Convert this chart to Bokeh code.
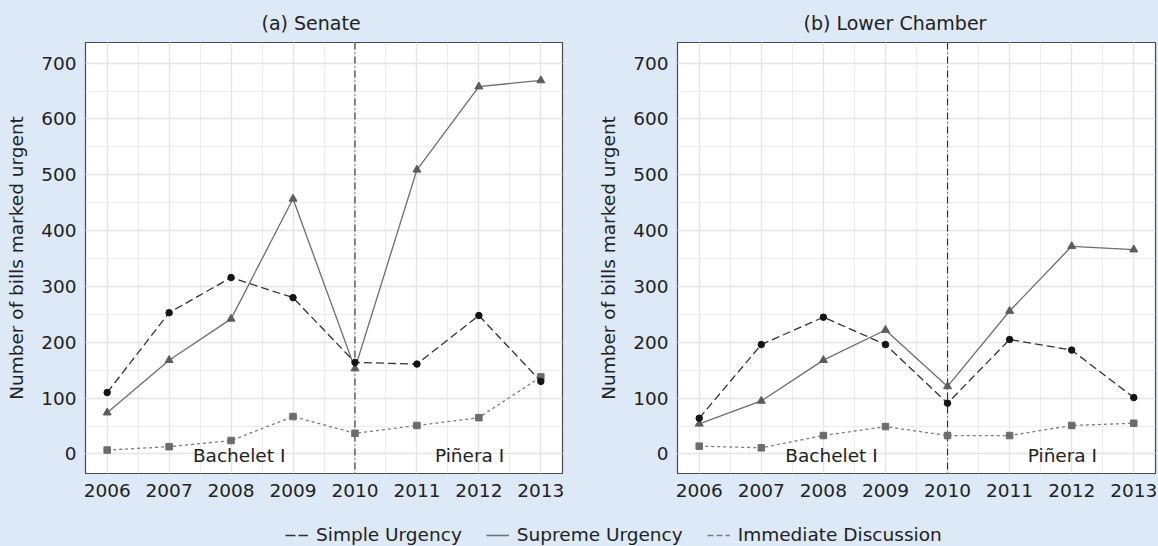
from bokeh.plotting import figure
from bokeh.models import (SingleIntervalTicker, Range1d, Span, Legend, LegendItem,
                          BasicTickFormatter)
from bokeh.layouts import column, row
from bokeh.embed import file_html
from bokeh.resources import INLINE
from bokeh.core.properties import value

# ---------------- data ----------------
years = [2006, 2007, 2008, 2009, 2010, 2011, 2012, 2013]

senate_simple = [110, 253, 316, 280, 164, 161, 248, 130]
senate_supreme = [74, 168, 242, 457, 153, 509, 658, 669]
senate_immediate = [7, 13, 24, 67, 37, 51, 65, 138]

lower_simple = [64, 196, 245, 196, 91, 205, 186, 101]
lower_supreme = [54, 95, 168, 222, 121, 256, 372, 366]
lower_immediate = [14, 11, 33, 49, 33, 33, 51, 55]

panel_titles = ["(a) Senate", "(b) Lower Chamber"]
series_names = ["Simple Urgency", "Supreme Urgency", "Immediate Discussion"]
regime_change_year = 2010
regime_labels = ["Bachelet I", "Piñera I"]
regime_label_x = [2008.13, 2011.85]
regime_label_y = [-3, -3]
y_title = "Number of bills marked urgent"

# ---------------- style ----------------
FONT = "DejaVu Sans"
FS = "18.5px"
BG = "#dde9f6"
TXT = "#222222"
C_SIMPLE_LINE = "#333333"
C_SIMPLE_PT = "#151515"
C_SUP_LINE = "#6e6e6e"
C_SUP_PT = "#5c5c5c"
C_IMM_LINE = "#7c7c7c"
C_IMM_PT = "#6c6c6c"


def make_panel(title, simple, supreme, immediate, width, bl, br, title_offset):
    p = figure(width=width, height=505,
               x_range=Range1d(2005.65, 2013.35), y_range=Range1d(-35, 737),
               output_backend="svg", toolbar_location=None,
               min_border_left=bl, min_border_right=br,
               min_border_top=42, min_border_bottom=32)
    p.background_fill_color = "white"
    p.border_fill_color = BG
    p.outline_line_color = "#4a4a4a"
    p.outline_line_width = 1.2

    p.title.text = title
    p.title.align = "left"
    p.title.offset = title_offset
    p.title.text_font = FONT
    p.title.text_font_size = "19px"
    p.title.text_font_style = "normal"
    p.title.text_color = TXT
    p.title.standoff = 17

    xt = SingleIntervalTicker(interval=1, num_minor_ticks=2)
    yt = SingleIntervalTicker(interval=100, num_minor_ticks=2)
    p.xaxis.ticker = xt
    p.xgrid.ticker = xt
    p.yaxis.ticker = yt
    p.ygrid.ticker = yt
    p.xaxis.formatter = BasicTickFormatter(use_scientific=False)

    for ax in (p.xaxis, p.yaxis):
        ax.major_tick_out = 0
        ax.major_tick_in = 0
        ax.minor_tick_out = 0
        ax.minor_tick_in = 0
        ax.axis_line_color = None
        ax.major_label_text_font = FONT
        ax.major_label_text_font_size = FS
        ax.major_label_text_color = TXT
    p.xaxis.major_label_standoff = 10
    p.yaxis.major_label_standoff = 9
    p.yaxis.axis_label = y_title
    p.yaxis.axis_label_text_font = FONT
    p.yaxis.axis_label_text_font_size = FS
    p.yaxis.axis_label_text_font_style = "normal"
    p.yaxis.axis_label_text_color = TXT
    p.yaxis.axis_label_standoff = 11

    for g in (p.xgrid, p.ygrid):
        g.grid_line_color = "#e4e4e4"
        g.grid_line_width = 1.4
        g.minor_grid_line_color = "#ececec"
        g.minor_grid_line_width = 1.1

    span = Span(location=regime_change_year, dimension="height",
                line_color="#2a2a2a", line_width=1.1, line_dash="7 3 1 3",
                level="underlay")
    p.add_layout(span)

    p.line(years, supreme, line_color=C_SUP_LINE, line_width=1.3)
    p.scatter(years, supreme, marker="triangle", size=8,
              fill_color=C_SUP_PT, line_color=C_SUP_PT)
    p.line(years, immediate, line_color=C_IMM_LINE, line_width=1.3, line_dash="3 3")
    p.scatter(years, immediate, marker="square", size=6.5,
              fill_color=C_IMM_PT, line_color=C_IMM_PT)
    p.line(years, simple, line_color=C_SIMPLE_LINE, line_width=1.3, line_dash="8 4")
    p.scatter(years, simple, marker="circle", size=6.5,
              fill_color=C_SIMPLE_PT, line_color=C_SIMPLE_PT)

    p.text(x=regime_label_x, y=regime_label_y, text=regime_labels,
           text_font=value(FONT), text_font_size=FS, text_color=TXT,
           text_align="center", text_baseline="middle")
    return p


p1 = make_panel(panel_titles[0], senate_simple, senate_supreme, senate_immediate,
                590, 85, 28, 176)
p2 = make_panel(panel_titles[1], lower_simple, lower_supreme, lower_immediate,
                568, 87, 3, 126)

# legend strip: the series lines sit outside this strip's view, only the legend shows
pl = figure(width=1158, height=41, x_range=Range1d(0, 1), y_range=Range1d(0, 1),
            output_backend="svg", toolbar_location=None, min_border=0)
pl.axis.visible = False
pl.grid.visible = False
pl.outline_line_color = None
pl.background_fill_color = BG
pl.border_fill_color = BG

r1 = pl.line(years, senate_simple, line_color=C_SIMPLE_LINE, line_width=1.5, line_dash="10 3")
r2 = pl.line(years, senate_supreme, line_color=C_SUP_LINE, line_width=1.5)
r3 = pl.line(years, senate_immediate, line_color=C_IMM_LINE, line_width=1.5, line_dash="6 3")

legend = Legend(items=[LegendItem(label=series_names[0], renderers=[r1]),
                       LegendItem(label=series_names[1], renderers=[r2]),
                       LegendItem(label=series_names[2], renderers=[r3])],
                orientation="horizontal", location=(285, 1),
                glyph_width=23, glyph_height=20, label_standoff=8, spacing=24,
                padding=0, margin=0, border_line_color=None,
                background_fill_alpha=0,
                label_text_font=FONT, label_text_font_size=FS,
                label_text_color=TXT)
pl.add_layout(legend)

layout = column(row(p1, p2, styles={"background-color": BG}), pl,
                styles={"background-color": BG})
open("out.html", "w").write(file_html(layout, INLINE))
